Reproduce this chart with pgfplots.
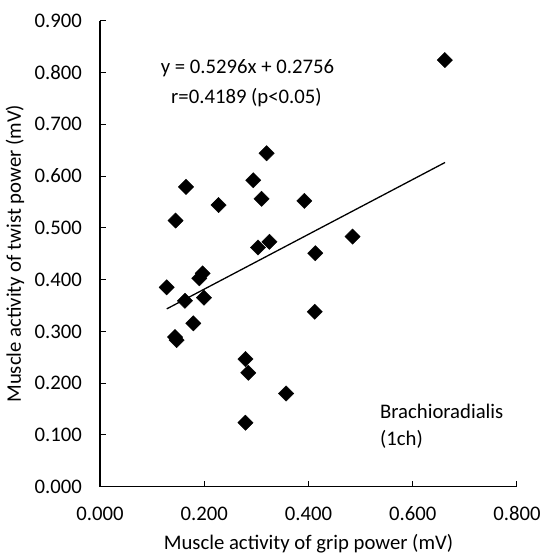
\documentclass[border=0pt]{standalone}
\usepackage{fontspec}
\setmainfont{Carlito}
\usepackage{pgfplots}
\pgfplotsset{compat=1.18}
\usetikzlibrary{calc}

\begin{document}
\fontsize{20.8}{25}\selectfont
\begin{tikzpicture}
\begin{axis}[
  name=ax,
  scale only axis,
  width=417bp, height=466bp,
  xmin=0, xmax=0.8, ymin=0, ymax=0.9,
  axis x line*=bottom, axis y line*=left,
  axis line style={line width=1.3bp, black},
  xtick={0,0.2,...,0.81}, ytick={0,0.1,...,0.91},
  tick align=inside, major tick length=6bp,
  tick style={line width=1bp, black},
  /pgf/number format/.cd, fixed, fixed zerofill, precision=3, assume math mode=true,
  /pgfplots/.cd,
  xticklabel style={yshift=-13bp},
  yticklabel style={xshift=-11bp},
  xlabel={Muscle activity of grip power (mV)},
  ylabel={Muscle activity of twist power (mV)},
  xlabel style={at={($(axis description cs:0.5,0)+(0,-63bp)$)}, anchor=base},
  ylabel style={at={($(axis description cs:0,0.5)+(-79bp,0)$)}, anchor=base},
  clip=false,
]
% measured points
\addplot[only marks, mark=square*, mark size=5.4bp, mark options={rotate=45, fill=black, draw=black}]
  coordinates {
  (0.6616,0.824) (0.3196,0.644) (0.294,0.592) (0.165,0.579) (0.310,0.556)
  (0.392,0.552) (0.2275,0.544) (0.145,0.514) (0.4845,0.483) (0.325,0.473)
  (0.303,0.462) (0.413,0.451) (0.197,0.412) (0.1905,0.4025) (0.128,0.385)
  (0.1994,0.365) (0.163,0.359) (0.412,0.338) (0.179,0.3155) (0.144,0.289)
  (0.147,0.283) (0.279,0.2466) (0.2845,0.220) (0.357,0.180) (0.279,0.1236)
  };
% linear trendline
\addplot[black, line width=1.3bp] coordinates {(0.128,0.3434) (0.662,0.6262)};
\node at (axis cs:0.283,0.8086) {y = 0.5296x + 0.2756};
\node at (axis cs:0.281,0.7507) {r=0.4189 (p<0.05)};
\node[anchor=west, inner sep=0pt] at (axis cs:0.537,0.1448) {Brachioradialis};
\node[anchor=west, inner sep=0pt] at (axis cs:0.537,0.092) {(1ch)};
\end{axis}
\pgfresetboundingbox
\path[use as bounding box] ($(ax.south west)+(-100bp,-68.3bp)$) rectangle ($(ax.north east)+(25bp,20.7bp)$);
\end{tikzpicture}
\end{document}
